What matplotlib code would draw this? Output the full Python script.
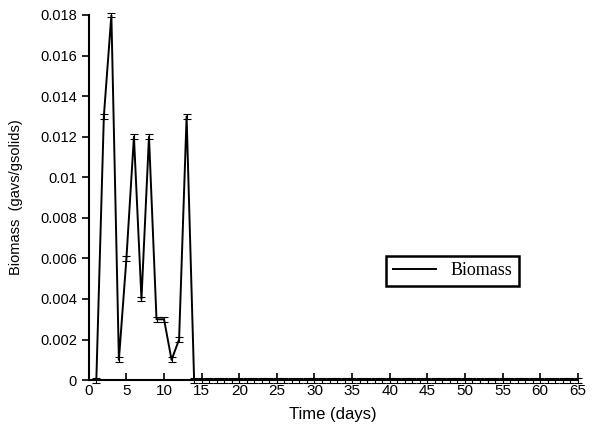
import numpy as np
import matplotlib.pyplot as plt
from matplotlib.lines import Line2D

# biomass vs time
days = list(range(1, 66))
biomass = [0.0, 0.013, 0.018, 0.001, 0.006, 0.012, 0.004, 0.012, 0.003, 0.003,
           0.001, 0.002, 0.013] + [0.0] * 52
err = [0.00012] * len(days)

fig = plt.figure(figsize=(6, 4.41), dpi=100)
ax = fig.add_axes([0.148, 0.138, 0.815, 0.828])

ebar = ax.errorbar(days, biomass, yerr=err, color='black', lw=1.4, capsize=3,
                   elinewidth=0.8, capthick=0.8, label='Biomass')
for art in ebar.lines[1] + ebar.lines[2]:
    art.set_clip_on(False)

ax.set_xlim(0, 65)
ax.set_ylim(0, 0.018)
ax.set_xticks(np.arange(0, 66, 5))
ax.set_yticks(np.arange(0, 0.0181, 0.002))
ax.set_yticklabels(['0', '0.002', '0.004', '0.006', '0.008', '0.01',
                    '0.012', '0.014', '0.016', '0.018'])

for s in ['top', 'right']:
    ax.spines[s].set_visible(False)
for s in ['left', 'bottom']:
    ax.spines[s].set_linewidth(1.5)

ax.tick_params(axis='x', direction='in', length=5, width=1.2, labelsize=11, pad=3)
ax.tick_params(axis='y', direction='out', length=5, width=1.2, labelsize=10.5)
for lab in ax.get_xticklabels() + ax.get_yticklabels():
    lab.set_family('Liberation Sans')

ax.set_xlabel('Time (days)', fontsize=12, family='Liberation Sans', labelpad=6)
ax.set_ylabel('Biomass  (gavs/gsolids)', fontsize=10.5, family='Liberation Sans',
              labelpad=12)

leg = ax.legend([Line2D([], [], color='black', lw=1.4)], ['Biomass'],
                loc='upper left', bbox_to_anchor=(0.59, 0.365),
                prop={'family': 'Liberation Serif', 'size': 13},
                fancybox=False, edgecolor='black', framealpha=1,
                borderpad=0.35, handlelength=2.4)
leg.get_frame().set_linewidth(1.8)

fig.savefig('out.png', dpi=100)
